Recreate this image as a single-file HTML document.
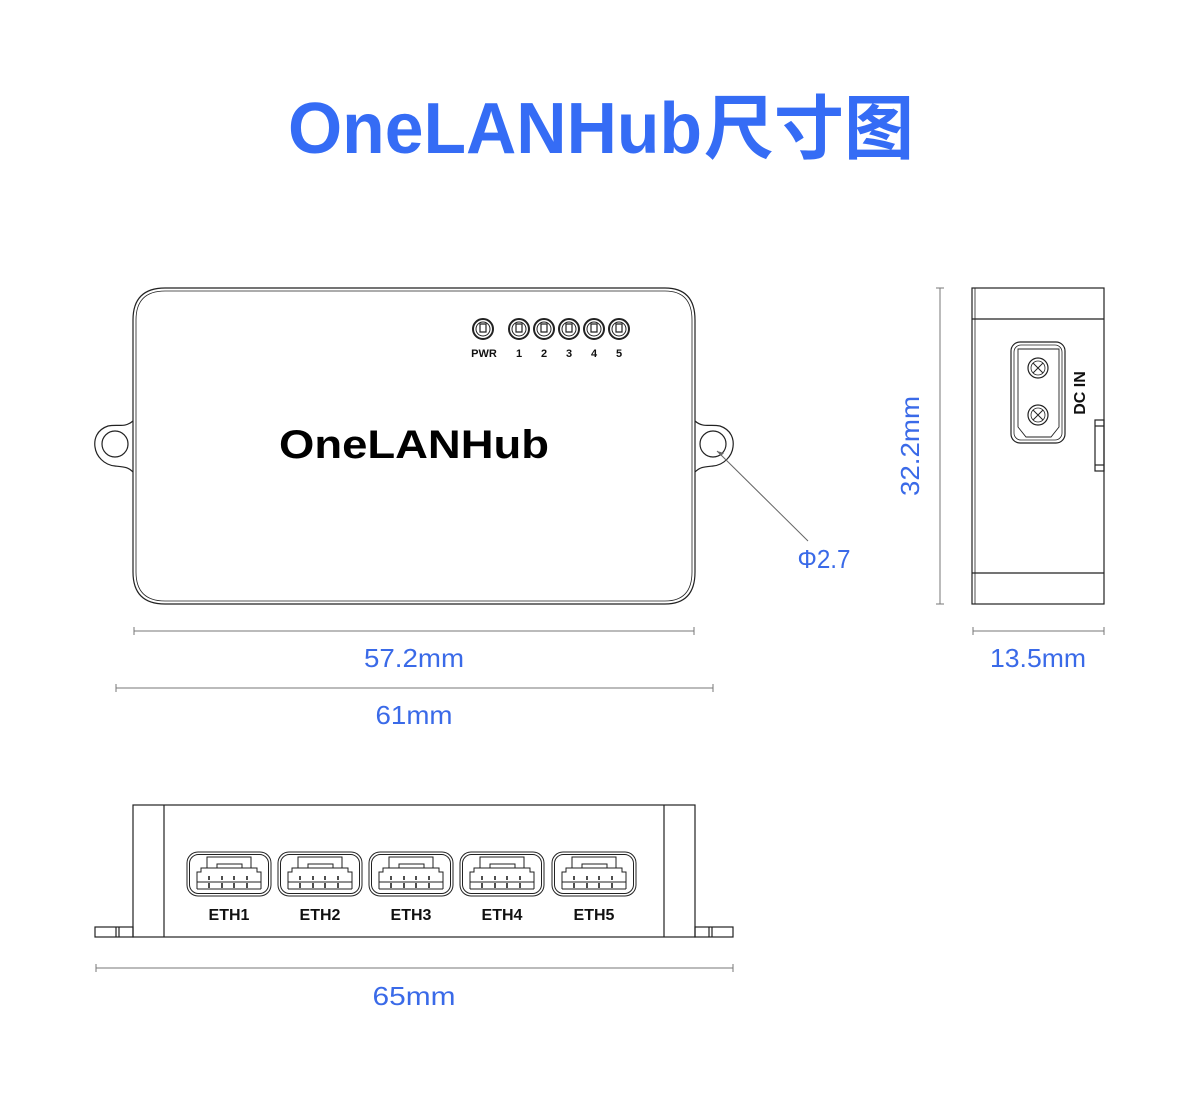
<!DOCTYPE html>
<html><head><meta charset="utf-8"><style>
html,body{margin:0;padding:0;background:#fff;}
svg{display:block;}
</style></head><body>
<svg width="1201" height="1105" viewBox="0 0 1201 1105" xmlns="http://www.w3.org/2000/svg">
<defs>
<g id="port" fill="none" stroke="#222" stroke-width="1">
  <rect x="0" y="0" width="84" height="44" rx="11"/>
  <rect x="2.5" y="2.5" width="79" height="39" rx="9"/>
  <rect x="20" y="5" width="44" height="11"/>
  <rect x="30" y="12" width="25" height="4"/>
  <polyline points="10,37 10,20 14,20 14,16 70,16 70,20 74,20 74,37"/>
  <line x1="10" y1="30" x2="74" y2="30"/>
  <line x1="10" y1="37" x2="74" y2="37"/>
  <path d="M22,24v4M35,24v4M47,24v4M60,24v4M22,31v5M35,31v5M47,31v5M60,31v5" stroke-width="1.6"/>
</g>
<g id="led" fill="none" stroke="#222">
  <circle r="10" stroke-width="2"/>
  <circle r="7" stroke-width="1"/>
  <path d="M-3,-5v8h6v-8z" stroke-width="1.2"/>
</g>
</defs>

<!-- Title -->
<g fill="#356cf5" font-family="Liberation Sans, sans-serif" font-weight="bold">
<text x="288" y="153" font-size="72" textLength="414" lengthAdjust="spacingAndGlyphs">OneLANHub</text>
<text x="704" y="153" font-size="70" font-family="Noto Sans CJK SC, sans-serif" textLength="210" lengthAdjust="spacingAndGlyphs">尺寸图</text>
</g>

<!-- Top view -->
<g fill="none" stroke="#222" stroke-width="1.2">
  <path d="M133,320 Q133,288 165,288 L665,288 Q695,288 695,320 L695,572 Q695,604 665,604 L165,604 Q133,604 133,572 Z"/>
  <path d="M136,320 Q136,291 165,291 L665,291 Q692,291 692,320 L692,572 Q692,601 665,601 L165,601 Q136,601 136,572 Z" stroke-width="0.8"/>
  <path d="M133,421 C125,428 118,424 108,426 C96,430 94,440 95,447 C96,456 104,465 115,466 C125,467 128,467 133,472"/>
  <circle cx="115" cy="444" r="13"/>
  <path d="M695,421 C703,428 710,424 720,426 C732,430 734,440 733,447 C732,456 724,465 713,466 C703,467 700,467 695,472"/>
  <circle cx="713" cy="444" r="13"/>
</g>
<use href="#led" x="483" y="329"/>
<use href="#led" x="519" y="329"/>
<use href="#led" x="544" y="329"/>
<use href="#led" x="569" y="329"/>
<use href="#led" x="594" y="329"/>
<use href="#led" x="619" y="329"/>
<g font-family="Liberation Sans, sans-serif" font-weight="bold" font-size="11" fill="#111" text-anchor="middle">
<text x="484" y="357">PWR</text><text x="519" y="357">1</text><text x="544" y="357">2</text><text x="569" y="357">3</text><text x="594" y="357">4</text><text x="619" y="357">5</text>
</g>
<text x="414" y="458" text-anchor="middle" font-family="Liberation Sans, sans-serif" font-weight="bold" font-size="40" fill="#000" textLength="270" lengthAdjust="spacingAndGlyphs">OneLANHub</text>
<line x1="717" y1="451" x2="808" y2="541" stroke="#666" stroke-width="1"/>
<path d="M717,451 l7,2 l-3,3z" fill="#666"/>

<!-- dimensions -->
<g stroke="#777" stroke-width="1">
<line x1="134" y1="631" x2="694" y2="631"/><line x1="134" y1="627" x2="134" y2="635"/><line x1="694" y1="627" x2="694" y2="635"/>
<line x1="116" y1="688" x2="713" y2="688"/><line x1="116" y1="684" x2="116" y2="692"/><line x1="713" y1="684" x2="713" y2="692"/>
<line x1="940" y1="288" x2="940" y2="604"/><line x1="936" y1="288" x2="944" y2="288"/><line x1="936" y1="604" x2="944" y2="604"/>
<line x1="973" y1="631" x2="1104" y2="631"/><line x1="973" y1="627" x2="973" y2="635"/><line x1="1104" y1="627" x2="1104" y2="635"/>
<line x1="96" y1="968" x2="733" y2="968"/><line x1="96" y1="964" x2="96" y2="972"/><line x1="733" y1="964" x2="733" y2="972"/>
</g>
<g font-family="Liberation Sans, sans-serif" font-size="26" fill="#3a6ae8" text-anchor="middle">
<text x="414" y="667" textLength="100" lengthAdjust="spacingAndGlyphs">57.2mm</text>
<text x="414" y="724" textLength="77" lengthAdjust="spacingAndGlyphs">61mm</text>
<text x="1038" y="667" textLength="96" lengthAdjust="spacingAndGlyphs">13.5mm</text>
<text x="414" y="1005" textLength="83" lengthAdjust="spacingAndGlyphs">65mm</text>
<text x="824" y="568" textLength="53" lengthAdjust="spacingAndGlyphs">Φ2.7</text>
<text transform="translate(919,446) rotate(-90)" textLength="100" lengthAdjust="spacingAndGlyphs">32.2mm</text>
</g>

<!-- Side view -->
<g fill="none" stroke="#222" stroke-width="1.2">
  <rect x="972" y="288" width="132" height="316"/>
  <line x1="975" y1="288" x2="975" y2="604" stroke-width="0.8"/>
  <line x1="972" y1="319" x2="1104" y2="319"/>
  <line x1="972" y1="573" x2="1104" y2="573"/>
  <rect x="1011" y="342" width="54" height="101" rx="9"/>
  <rect x="1014" y="345" width="48" height="95" rx="7" stroke-width="0.8"/>
  <path d="M1018,349 L1059,349 L1059,427 L1051,437 L1026,437 L1018,427 Z" stroke-width="0.9"/>
  <circle cx="1038" cy="368" r="10"/><circle cx="1038" cy="368" r="7" stroke-width="0.8"/>
  <path d="M1033,363l10,10M1043,363l-10,10" stroke-width="1"/>
  <circle cx="1038" cy="415" r="10"/><circle cx="1038" cy="415" r="7" stroke-width="0.8"/>
  <path d="M1033,410l10,10M1043,410l-10,10" stroke-width="1"/>
  <rect x="1095" y="420" width="9" height="51"/>
  <line x1="1095" y1="426" x2="1104" y2="426"/><line x1="1095" y1="465" x2="1104" y2="465"/>
</g>
<text transform="translate(1085,393) rotate(-90)" text-anchor="middle" font-family="Liberation Sans, sans-serif" font-weight="bold" font-size="16" fill="#111">DC IN</text>

<!-- Bottom view -->
<g fill="none" stroke="#222" stroke-width="1.2">
  <rect x="133" y="805" width="562" height="132"/>
  <line x1="164" y1="805" x2="164" y2="937"/>
  <line x1="664" y1="805" x2="664" y2="937"/>
  <rect x="95" y="927" width="38" height="10"/>
  <line x1="116" y1="927" x2="116" y2="937"/><line x1="119" y1="927" x2="119" y2="937"/>
  <rect x="695" y="927" width="38" height="10"/>
  <line x1="709" y1="927" x2="709" y2="937"/><line x1="712" y1="927" x2="712" y2="937"/>
</g>
<use href="#port" x="187" y="852"/>
<use href="#port" x="278" y="852"/>
<use href="#port" x="369" y="852"/>
<use href="#port" x="460" y="852"/>
<use href="#port" x="552" y="852"/>
<g font-family="Liberation Sans, sans-serif" font-weight="bold" font-size="16" fill="#111" text-anchor="middle">
<text x="229" y="920">ETH1</text><text x="320" y="920">ETH2</text><text x="411" y="920">ETH3</text><text x="502" y="920">ETH4</text><text x="594" y="920">ETH5</text>
</g>
</svg>
</body></html>
